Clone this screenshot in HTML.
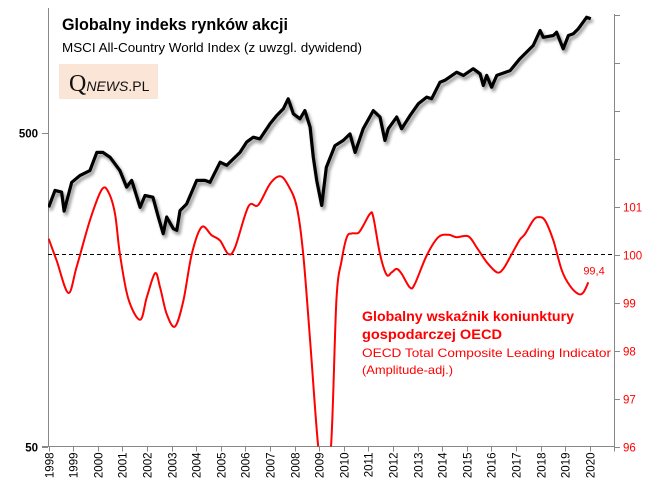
<!DOCTYPE html>
<html><head><meta charset="utf-8">
<style>
body{margin:0;background:#fff;}
svg{display:block;font-family:"Liberation Sans",sans-serif;}
</style></head>
<body>
<svg id="chart" width="655" height="494" viewBox="0 0 655 494" xmlns="http://www.w3.org/2000/svg">
<defs>
<filter id="shadow" x="-5%" y="-5%" width="110%" height="120%">
<feGaussianBlur in="SourceAlpha" stdDeviation="1.6"/>
<feOffset dx="2" dy="3" result="o"/>
<feComponentTransfer><feFuncA type="linear" slope="0.45"/></feComponentTransfer>
<feMerge><feMergeNode/><feMergeNode in="SourceGraphic"/></feMerge>
</filter>
<clipPath id="plotclip"><rect x="48" y="8" width="566" height="438.5"/></clipPath>
</defs>
<rect x="59" y="64" width="99" height="35" fill="#fbe5d6"/>
<text x="69" y="91" font-family="Liberation Serif,serif" font-size="24" fill="#111">Q<tspan font-family="Liberation Sans,sans-serif" font-size="14" font-style="italic">NEWS</tspan><tspan font-family="Liberation Sans,sans-serif" font-size="14">.PL</tspan></text>
<text x="62" y="30" font-size="16.5" font-weight="bold" fill="#000" textLength="226" lengthAdjust="spacingAndGlyphs">Globalny indeks rynków akcji</text>
<text x="62" y="52" font-size="13" fill="#000" textLength="300" lengthAdjust="spacingAndGlyphs">MSCI All-Country World Index (z uwzgl. dywidend)</text>
<g id="axes"></g>
<g id="series" clip-path="url(#plotclip)"></g>
<text x="362" y="321" font-size="14" font-weight="bold" fill="#ff0000" textLength="212" lengthAdjust="spacingAndGlyphs">Globalny wskaźnik koniunktury</text>
<text x="362" y="339" font-size="14" font-weight="bold" fill="#ff0000" textLength="140" lengthAdjust="spacingAndGlyphs">gospodarczej OECD</text>
<text x="362" y="357" font-size="12" fill="#ff0000" textLength="249" lengthAdjust="spacingAndGlyphs">OECD Total Composite Leading Indicator</text>
<text x="362" y="374" font-size="12" fill="#ff0000" textLength="91" lengthAdjust="spacingAndGlyphs">(Amplitude-adj.)</text>
</svg>
<script>
const years = [1998,1999,2000,2001,2002,2003,2004,2005,2006,2007,2008,2009,2010,2011,2012,2013,2014,2015,2016,2017,2018,2019,2020];
const leftTicks = [50, 500];
const rightTicks = [96,97,98,99,100,101,102,103,104,105];
const rightLabels = ["96","97","98","99","100","101","","","",""];
const msciTimes = [1998.0,1998.26,1998.53,1998.63,1998.94,1999.28,1999.68,1999.96,2000.21,2000.5,2000.9,2001.17,2001.38,2001.72,2001.92,2002.24,2002.46,2002.66,2002.8,2003.07,2003.21,2003.34,2003.61,2004.02,2004.36,2004.56,2004.97,2005.24,2005.51,2005.78,2006.05,2006.32,2006.59,2007.0,2007.27,2007.54,2007.74,2007.95,2008.22,2008.42,2008.63,2008.76,2008.9,2009.1,2009.29,2009.64,2009.98,2010.25,2010.46,2010.79,2011.2,2011.47,2011.67,2011.81,2012.15,2012.35,2012.69,2013.03,2013.37,2013.57,2013.91,2014.11,2014.59,2014.86,2015.26,2015.54,2015.67,2015.81,2016.01,2016.22,2016.76,2017.16,2017.7,2017.98,2018.11,2018.52,2018.65,2018.92,2019.13,2019.33,2019.53,2019.87,2020.04];
const msciValues = [289,327,323,281,347,365,378,432,432,417,378,335,352,289,315,311,269,238,269,247,244,282,296,352,352,347,402,393,412,432,466,483,477,533,566,595,640,573,553,587,520,417,352,293,387,454,472,495,432,514,587,560,472,514,560,514,566,617,648,640,723,733,778,760,798,769,706,760,697,760,787,859,946,1056,1005,1018,1043,924,1018,1031,1069,1164,1151];
const cliTimes = [1998.0,1998.33,1998.8,1999.14,1999.68,2000.16,2000.43,2000.7,2000.9,2001.24,2001.72,2001.99,2002.33,2002.53,2002.8,2003.14,2003.48,2003.82,2004.22,2004.63,2004.97,2005.31,2005.58,2006.12,2006.52,2007.0,2007.41,2007.74,2008.09,2008.35,2008.63,2008.96,2009.2,2009.48,2009.7,2009.91,2010.12,2010.32,2010.59,2010.79,2011.07,2011.2,2011.47,2011.74,2011.95,2012.15,2012.35,2012.69,2012.89,2013.37,2013.84,2014.25,2014.59,2015.06,2015.4,2015.81,2016.22,2016.48,2016.83,2017.16,2017.37,2017.7,2017.91,2018.18,2018.52,2018.86,2019.19,2019.53,2019.74,2019.94];
const cliValues = [100.33,99.87,99.2,99.74,100.71,101.35,101.3,100.85,100.01,99.08,98.64,99.11,99.61,99.32,98.76,98.5,99.04,100.01,100.57,100.4,100.29,100.01,100.15,101.0,101.03,101.47,101.63,101.44,100.99,100.01,98.21,96.0,95.4,96.0,99.05,99.87,100.36,100.44,100.45,100.6,100.85,100.78,100.01,99.58,99.63,99.7,99.6,99.31,99.39,99.98,100.36,100.41,100.36,100.38,100.15,99.84,99.63,99.7,100.01,100.31,100.43,100.71,100.78,100.71,100.29,99.67,99.35,99.18,99.21,99.42];
const lastLabel = "99,4";

const NS="http://www.w3.org/2000/svg";
const X0=48.6, XW=24.6, YB=446.5, YT=14;
function xs(t){return X0+(t-1998)*XW;}
function yl(v){return YB-Math.log10(v/50)*314;}
function yr(v){return YB-(v-96)*48;}
function mk(tag,attrs,parent){const e=document.createElementNS(NS,tag);for(const k in attrs)e.setAttribute(k,attrs[k]);parent.appendChild(e);return e;}
const axes=document.getElementById('axes'), series=document.getElementById('series');

let el=mk('line',{x1:48.5,y1:8,x2:48.5,y2:YB,stroke:'#888','stroke-width':1},axes);


el=mk('line',{x1:614.5,y1:YT,x2:614.5,y2:YB,stroke:'#888','stroke-width':1},axes);


el=mk('line',{x1:42,y1:YB,x2:615,y2:YB,stroke:'#888','stroke-width':1},axes);


el=mk('line',{x1:48,y1:yr(100),x2:614,y2:yr(100),stroke:'#000','stroke-width':1,'stroke-dasharray':'4,3'},axes);


leftTicks.forEach(v=>{
  const y=Math.round(yl(v))+0.5;
  mk('line',{x1:42,y1:y,x2:48,y2:y,stroke:'#888'},axes);
  const t=mk('text',{x:38,y:y+4,'text-anchor':'end','font-size':11.5,'font-weight':'bold',fill:'#000'},axes);
  t.textContent=v;
  
  
});
rightTicks.forEach((v,i)=>{
  const y=Math.round(yr(v))+0.5;
  mk('line',{x1:614,y1:y,x2:620,y2:y,stroke:'#888'},axes);
  if(rightLabels[i]){
    const t=mk('text',{x:623,y:y+4,'font-size':11.5,fill:'#ff0000'},axes);
    t.textContent=rightLabels[i];
    
    
  }
});
years.forEach(yv=>{
  const x=Math.round(xs(yv))+0.5;
  mk('line',{x1:x,y1:YB,x2:x,y2:YB+5,stroke:'#888'},axes);
  const t=mk('text',{x:0,y:0,'font-size':11.5,fill:'#000','text-anchor':'end',transform:`translate(${x+4},${YB+6}) rotate(-90)`},axes);
  t.textContent=yv;
  
  
});
mk('line',{x1:614.5,y1:YB,x2:614.5,y2:YB+5,stroke:'#888'},axes);

let d=msciTimes.map((t,i)=>(i?'L':'M')+xs(t).toFixed(1)+','+yl(msciValues[i]).toFixed(1)).join(' ');
el=mk('path',{d:d,fill:'none',stroke:'#000','stroke-width':3.2,'stroke-linejoin':'round',filter:'url(#shadow)'},series);



const pts=cliTimes.map((t,i)=>[xs(t),yr(cliValues[i])]);
let s='M'+pts[0][0].toFixed(1)+','+pts[0][1].toFixed(1);
for(let i=0;i<pts.length-1;i++){
  const p0=pts[Math.max(0,i-1)],p1=pts[i],p2=pts[i+1],p3=pts[Math.min(pts.length-1,i+2)];
  const c1=[p1[0]+(p2[0]-p0[0])/6,p1[1]+(p2[1]-p0[1])/6];
  const c2=[p2[0]-(p3[0]-p1[0])/6,p2[1]-(p3[1]-p1[1])/6];
  s+=` C${c1[0].toFixed(1)},${c1[1].toFixed(1)} ${c2[0].toFixed(1)},${c2[1].toFixed(1)} ${p2[0].toFixed(1)},${p2[1].toFixed(1)}`;
}
el=mk('path',{d:s,fill:'none',stroke:'#ff0000','stroke-width':2,'stroke-linejoin':'round'},series);



const lp=pts[pts.length-1];
el=mk('text',{x:lp[0]-5,y:lp[1]-8,'font-size':11,fill:'#ff0000'},document.getElementById('chart'));
el.textContent=lastLabel;


</script>
</body></html>
